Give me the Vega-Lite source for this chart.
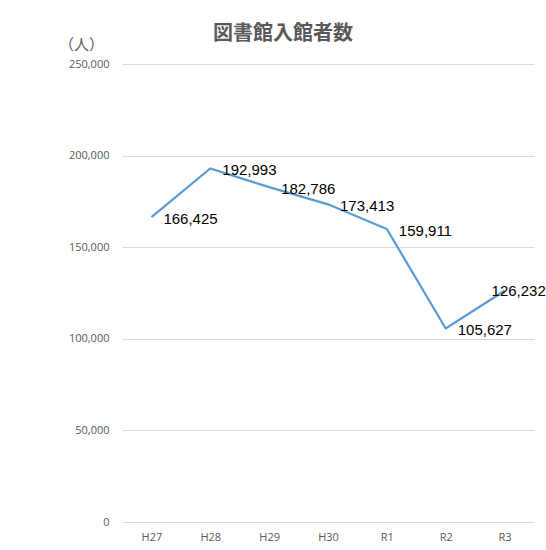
{
  "$schema": "https://vega.github.io/schema/vega-lite/v6.json",
  "autosize": "none",
  "width": 412,
  "height": 458,
  "padding": {"left": 122, "top": 64, "right": 12, "bottom": 28},
  "background": "white",
  "title": {
    "text": "図書館入館者数",
    "frame": "group",
    "anchor": "middle",
    "dx": -45,
    "dy": 45,
    "offset": 22,
    "baseline": "alphabetic",
    "fontSize": 20,
    "fontWeight": "bold",
    "font": "Noto Sans CJK JP",
    "color": "#595959"
  },
  "config": {
    "view": {"stroke": null},
    "font": "Open Sans"
  },
  "data": {
    "values": [
      {"year": "H27", "visitors": 166425},
      {"year": "H28", "visitors": 192993},
      {"year": "H29", "visitors": 182786},
      {"year": "H30", "visitors": 173413},
      {"year": "R1", "visitors": 159911},
      {"year": "R2", "visitors": 105627},
      {"year": "R3", "visitors": 126232}
    ]
  },
  "encoding": {
    "x": {
      "field": "year",
      "type": "ordinal",
      "sort": null,
      "scale": {"paddingInner": 0, "paddingOuter": 0.5},
      "axis": {
        "title": null,
        "labelAngle": 0,
        "ticks": false,
        "domain": false,
        "labelPadding": 9,
        "labelFontSize": 11,
        "labelColor": "#595959",
        "labelFont": "Open Sans"
      }
    },
    "y": {
      "field": "visitors",
      "type": "quantitative",
      "scale": {"domain": [0, 250000], "nice": false},
      "axis": {
        "values": [0, 50000, 100000, 150000, 200000, 250000],
        "format": ",d",
        "title": "（人）",
        "titleAngle": 0,
        "titleX": -41,
        "titleY": -20,
        "titleAlign": "center",
        "titleBaseline": "middle",
        "titleFontSize": 15,
        "titleFontWeight": "normal",
        "titleColor": "#595959",
        "titleFont": "Noto Sans CJK JP",
        "ticks": false,
        "domain": false,
        "labelPadding": 13,
        "labelFontSize": 11,
        "labelColor": "#595959",
        "labelFont": "Open Sans",
        "grid": true,
        "gridColor": "#D9D9D9",
        "gridWidth": 1
      }
    }
  },
  "layer": [
    {
      "mark": {"type": "line", "color": "#5B9BD5", "strokeWidth": 2.25}
    },
    {
      "transform": [{"filter": "datum.year != 'R3'"}],
      "mark": {"type": "text", "align": "left", "baseline": "middle", "dx": 12, "dy": 2, "fontSize": 15, "color": "#000000", "font": "Liberation Sans"},
      "encoding": {"text": {"field": "visitors", "type": "quantitative", "format": ",d"}}
    },
    {
      "transform": [{"filter": "datum.year == 'R3'"}],
      "mark": {"type": "text", "align": "left", "baseline": "middle", "dx": -13, "dy": 0, "fontSize": 15, "color": "#000000", "font": "Liberation Sans"},
      "encoding": {"text": {"field": "visitors", "type": "quantitative", "format": ",d"}}
    }
  ]
}
